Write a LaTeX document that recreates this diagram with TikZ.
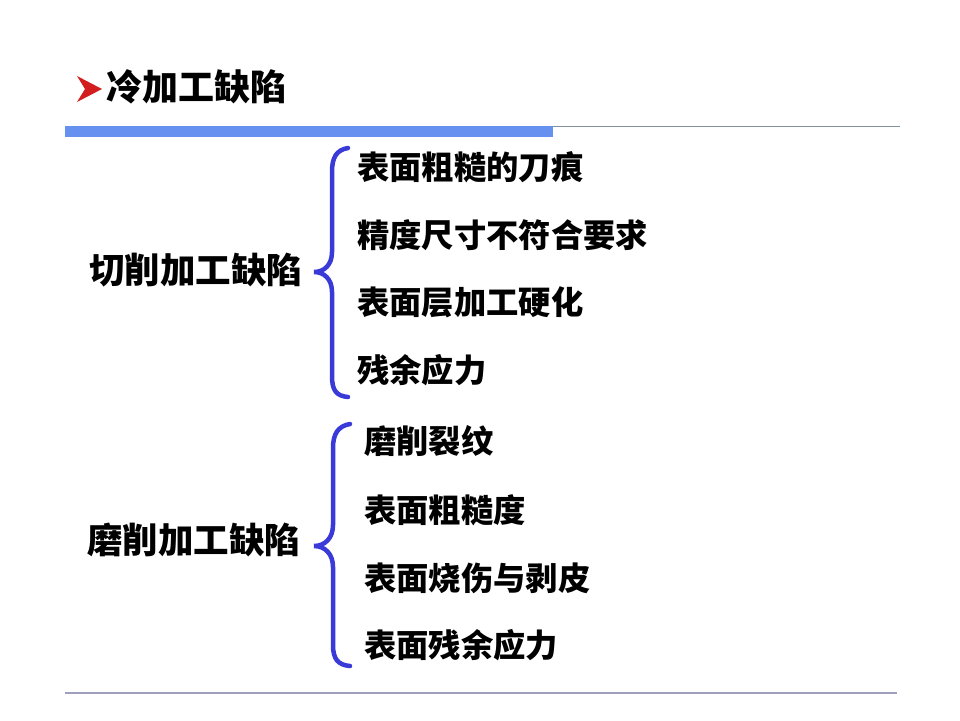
\documentclass[tikz,border=0pt]{standalone}
\usepackage{fontspec}
\newfontfamily\cjk{Noto Sans CJK SC}
\definecolor{chevred}{RGB}{210,30,30}
\definecolor{barblue}{RGB}{102,145,240}
\definecolor{rulegrey}{RGB}{130,145,160}
\definecolor{footgrey}{RGB}{160,160,190}
\definecolor{braceblue}{RGB}{58,58,216}
\begin{document}
\begin{tikzpicture}[x=1pt,y=-1pt,
  item/.style={anchor=west,inner sep=0pt,font=\cjk\bfseries\fontsize{32.3}{34}\selectfont},
  lbl/.style={anchor=west,inner sep=0pt,font=\cjk\bfseries\fontsize{35.5}{37}\selectfont},
  bracestroke/.style={draw=braceblue,line width=4.5pt,line cap=round}]
\useasboundingbox (0,0) rectangle (960,720);
\fill[white] (0,0) rectangle (960,720);
% header
\fill[chevred] (77,76) -- (102,89) -- (77,102) -- (85,89) -- cycle;
\node[anchor=west,inner sep=0pt,font=\cjk\bfseries\fontsize{36}{38}\selectfont] (title) at (106,87) {冷加工缺陷};
\fill[barblue] (65,126) rectangle (553,137);
\draw[rulegrey,line width=1.5pt] (553,126.5) -- (900,126.5);
\draw[footgrey,line width=1.5pt] (65,693) -- (897,693);
% group 1
\node[lbl] (g1) at (89,270) {切削加工缺陷};
\node[item] (a1) at (357,167) {表面粗糙的刀痕};
\node[item] (a2) at (357,235) {精度尺寸不符合要求};
\node[item] (a3) at (357,302) {表面层加工硬化};
\node[item] (a4) at (357,370) {残余应力};
\draw[bracestroke] (348,148) .. controls (336,150) and (332,158) .. (332,172) -- (332,252)
  .. controls (332,265) and (324,272) .. (314,272) .. controls (324,272) and (332,279) .. (332,292)
  -- (332,376) .. controls (332,390) and (336,396) .. (348,397);
% group 2
\node[lbl] (g2) at (87,540) {磨削加工缺陷};
\node[item] (b1) at (364,441) {磨削裂纹};
\node[item] (b2) at (364,510) {表面粗糙度};
\node[item] (b3) at (364,578) {表面烧伤与剥皮};
\node[item] (b4) at (364,645) {表面残余应力};
\draw[bracestroke] (350,424) .. controls (338,426) and (333,434) .. (333,448) -- (333,525)
  .. controls (333,538) and (325,546) .. (314,546) .. controls (325,546) and (333,554) .. (333,567)
  -- (333,645) .. controls (333,659) and (338,665) .. (350,666);
\end{tikzpicture}
\end{document}
